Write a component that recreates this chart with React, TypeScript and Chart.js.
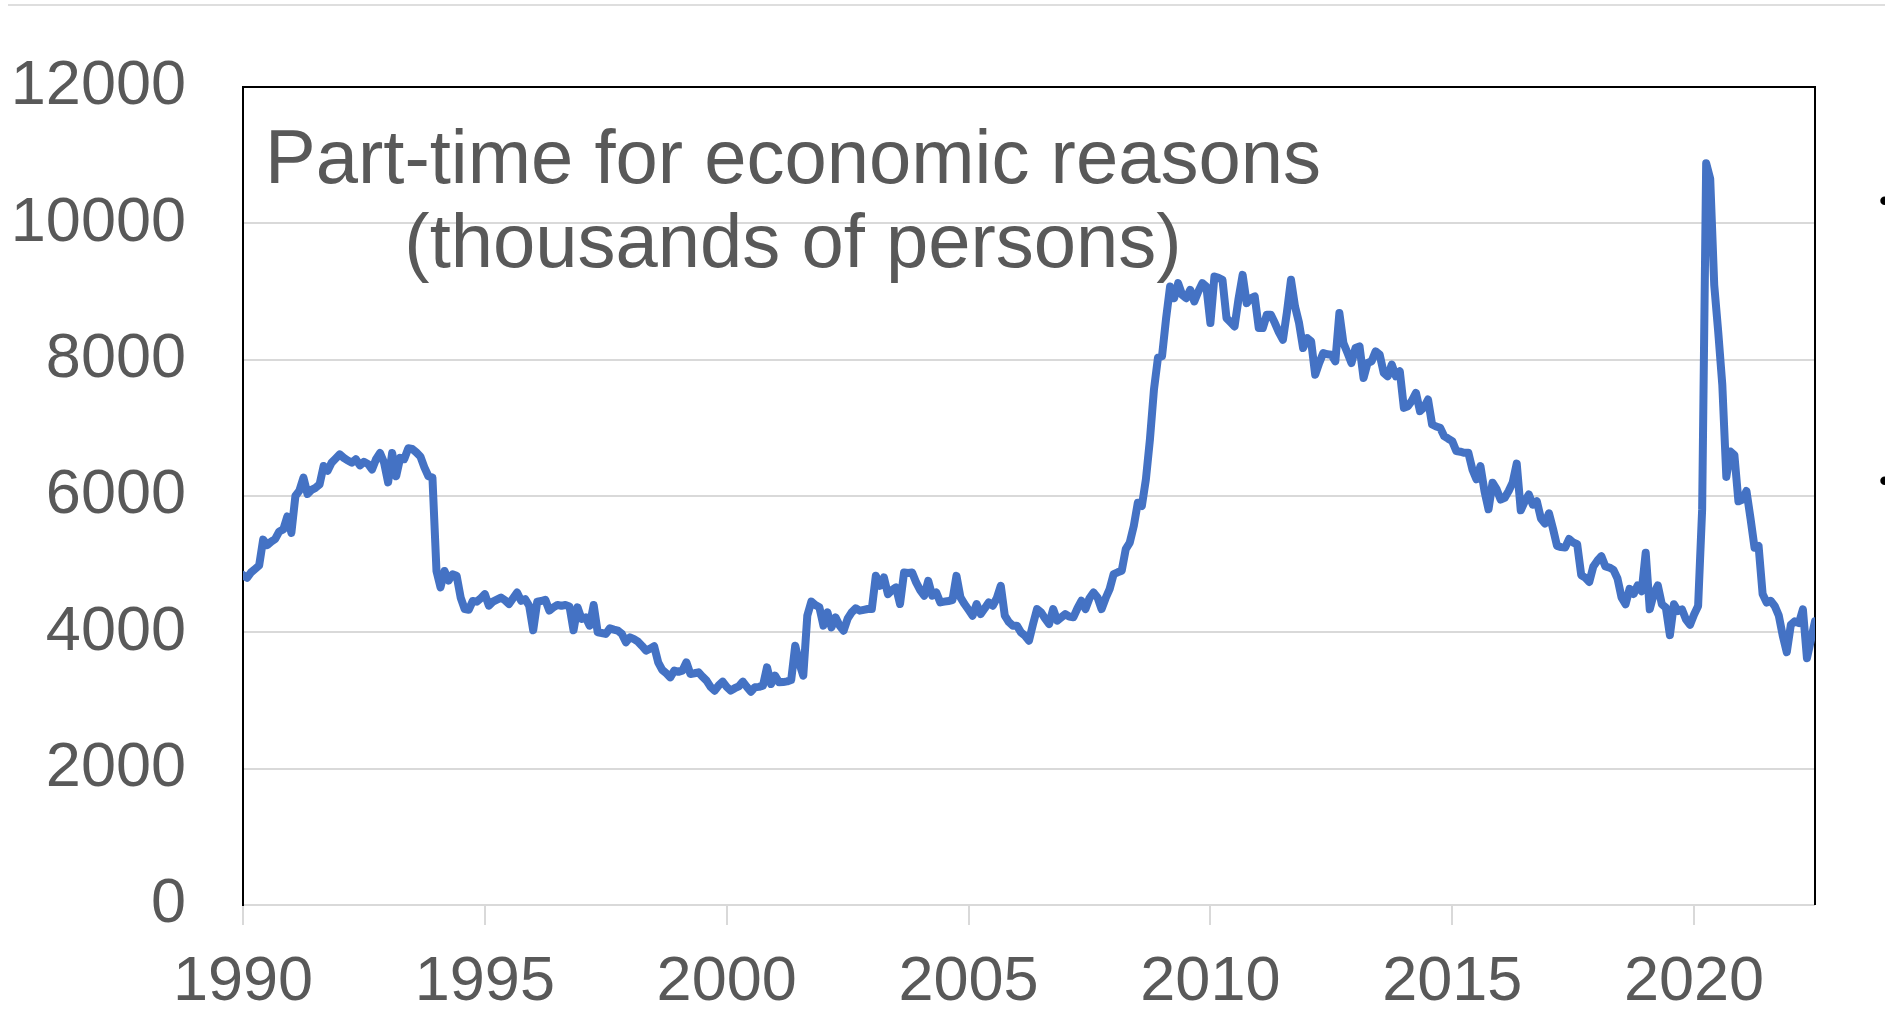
import { useEffect, useRef } from "react";
import { Chart, registerables } from "chart.js";

Chart.register(...registerables);

// Monthly series, thousands of persons, starting January 1990.
const START_YEAR = 1990;
const y1990 = [4840, 4800, 4880, 4930, 4980, 5360, 5280, 5330, 5370, 5480, 5510, 5700];
const y1991 = [5460, 6000, 6080, 6270, 6030, 6090, 6120, 6170, 6440, 6370, 6490, 6550];
const y1992 = [6610, 6560, 6520, 6490, 6540, 6450, 6500, 6470, 6390, 6540, 6630, 6490];
const y1993 = [6200, 6630, 6290, 6560, 6540, 6700, 6690, 6640, 6580, 6420, 6290, 6270];
const y1994 = [4900, 4660, 4900, 4760, 4850, 4830, 4510, 4340, 4330, 4460, 4450, 4500];
const y1995 = [4560, 4390, 4450, 4480, 4510, 4470, 4415, 4500, 4585, 4463, 4488, 4390];
const y1996 = [4030, 4450, 4460, 4478, 4320, 4366, 4400, 4390, 4400, 4380, 4030, 4367];
const y1997 = [4196, 4220, 4098, 4401, 4000, 3990, 3976, 4059, 4040, 4024, 3976, 3853];
const y1998 = [3927, 3900, 3863, 3800, 3731, 3760, 3795, 3560, 3450, 3400, 3340, 3438];
const y1999 = [3420, 3438, 3560, 3389, 3400, 3413, 3350, 3291, 3200, 3144, 3220, 3277];
const y2000 = [3200, 3144, 3180, 3208, 3277, 3200, 3130, 3193, 3200, 3218, 3487, 3242];
const y2001 = [3364, 3267, 3270, 3281, 3300, 3804, 3550, 3364, 4245, 4450, 4400, 4367];
const y2002 = [4098, 4293, 4073, 4220, 4100, 4024, 4200, 4293, 4352, 4318, 4330, 4342];
const y2003 = [4341, 4829, 4683, 4805, 4561, 4620, 4659, 4415, 4878, 4870, 4878, 4732];
const y2004 = [4620, 4537, 4756, 4537, 4585, 4439, 4450, 4460, 4473, 4829, 4512, 4415];
const y2005 = [4330, 4244, 4415, 4268, 4350, 4439, 4390, 4500, 4683, 4244, 4150, 4098];
const y2006 = [4098, 4000, 3951, 3878, 4120, 4341, 4293, 4200, 4122, 4341, 4171, 4220];
const y2007 = [4268, 4230, 4220, 4350, 4463, 4341, 4500, 4585, 4512, 4341, 4500, 4634];
const y2008 = [4854, 4880, 4903, 5220, 5317, 5561, 5902, 5854, 6244, 6829, 7561, 8030];
const y2009 = [8050, 8600, 9073, 8902, 9122, 8950, 8902, 9024, 8854, 9000, 9122, 9073];
const y2010 = [8537, 9220, 9200, 9171, 8610, 8550, 8488, 8900, 9244, 8829, 8900, 8927];
const y2011 = [8463, 8463, 8659, 8659, 8537, 8400, 8293, 8700, 9171, 8780, 8537, 8171];
const y2012 = [8317, 8268, 7780, 7951, 8098, 8080, 8073, 7976, 8683, 8244, 8100, 7951];
const y2013 = [8171, 8195, 7732, 7951, 7976, 8122, 8073, 7805, 7756, 7927, 7756, 7829];
const y2014 = [7293, 7317, 7400, 7512, 7244, 7300, 7415, 7049, 7020, 7000, 6878, 6840];
const y2015 = [6805, 6659, 6650, 6634, 6634, 6390, 6244, 6439, 6073, 5805, 6195, 6100];
const y2016 = [5948, 5973, 6073, 6200, 6476, 5790, 5922, 6023, 5872, 5922, 5671, 5595];
const y2017 = [5746, 5520, 5268, 5250, 5243, 5369, 5318, 5293, 4840, 4800, 4740, 4966];
const y2018 = [5050, 5117, 4966, 4950, 4916, 4790, 4513, 4412, 4639, 4563, 4689, 4604];
const y2019 = [5167, 4337, 4563, 4689, 4412, 4362, 3959, 4412, 4312, 4337, 4186, 4110];
const y2020 = [4261, 4387, 5800, 10881, 10654, 9094, 8400, 7634, 6280, 6652, 6602, 5922];
const y2021 = [5948, 6073, 5671, 5243, 5268, 4563, 4437, 4463, 4387, 4250, 3950, 3708];
const y2022 = [4110, 4161, 4136, 4337, 3620, 3890, 4160];

const monthly = [
  ...y1990, ...y1991, ...y1992, ...y1993, ...y1994, ...y1995, ...y1996,
  ...y1997, ...y1998, ...y1999, ...y2000, ...y2001, ...y2002, ...y2003,
  ...y2004, ...y2005, ...y2006, ...y2007, ...y2008, ...y2009, ...y2010,
  ...y2011, ...y2012, ...y2013, ...y2014, ...y2015, ...y2016, ...y2017,
  ...y2018, ...y2019, ...y2020, ...y2021, ...y2022,
];

const tickYears = [1990, 1995, 2000, 2005, 2010, 2015, 2020];
const yTickValues = [0, 2000, 4000, 6000, 8000, 10000, 12000];
const titleLines = ["Part-time for economic reasons", "(thousands of persons)"];

const FONT = "'Liberation Sans', Arial, Helvetica, sans-serif";
const TEXT_GREY = "#595959";
const GRID_GREY = "#d9d9d9";
const LINE_BLUE = "#4472C4";

// Black frame along the top and right edges of the plot area.
const framePlugin = {
  id: "plotFrame",
  beforeDatasetsDraw(chart: any) {
    const { ctx, chartArea } = chart;
    const { left, top, right, bottom } = chartArea;
    ctx.save();
    ctx.strokeStyle = "#000000";
    ctx.lineWidth = 2;
    ctx.beginPath();
    ctx.moveTo(left - 1, top);
    ctx.lineTo(right, top);
    ctx.lineTo(right, bottom);
    ctx.stroke();
    ctx.restore();
  },
};

export default function App() {
  const canvasRef = useRef<HTMLCanvasElement | null>(null);

  useEffect(() => {
    const canvas = canvasRef.current;
    if (!canvas) return;
    const chart = new Chart(canvas, {
      type: "line",
      data: {
        datasets: [
          {
            data: monthly.map((v, i) => ({ x: i, y: v })),
            borderColor: LINE_BLUE,
            backgroundColor: LINE_BLUE,
            borderWidth: 8,
            pointRadius: 0,
            tension: 0,
            fill: false,
            borderJoinStyle: "round",
            borderCapStyle: "round",
          },
        ],
      },
      options: {
        animation: false,
        responsive: false,
        devicePixelRatio: 1,
        events: [],
        layout: { padding: { left: 0, top: 87, right: 70, bottom: 0 } },
        elements: { line: { borderWidth: 8 } },
        plugins: {
          legend: { display: false },
          tooltip: { enabled: false },
          title: { display: false },
        },
        scales: {
          x: {
            type: "linear",
            min: 0,
            max: monthly.length - 1,
            afterBuildTicks: (scale: any) => {
              scale.ticks = tickYears.map((y) => ({ value: (y - START_YEAR) * 12 }));
            },
            afterFit: (scale: any) => {
              scale.height = 116;
              scale.paddingLeft = 0;
              scale.paddingRight = 0;
            },
            ticks: {
              callback: (v: any) => String(Math.round(START_YEAR + Number(v) / 12)),
              color: TEXT_GREY,
              font: { family: FONT, size: 63 },
              padding: 20,
              maxRotation: 0,
              autoSkip: false,
            },
            grid: {
              drawOnChartArea: false,
              drawTicks: true,
              tickLength: 20,
              tickColor: GRID_GREY,
              tickWidth: 2,
              color: GRID_GREY,
              lineWidth: 2,
            },
            border: { display: false },
          },
          y: {
            min: 0,
            max: 12000,
            afterBuildTicks: (scale: any) => {
              scale.ticks = yTickValues.map((v) => ({ value: v }));
            },
            afterFit: (scale: any) => {
              scale.width = 243;
              scale.paddingTop = 0;
              scale.paddingBottom = 0;
            },
            ticks: {
              color: TEXT_GREY,
              font: { family: FONT, size: 63 },
              padding: 57,
              callback: (v: any) => String(v),
            },
            grid: {
              color: GRID_GREY,
              lineWidth: 2,
              drawTicks: false,
            },
            border: { display: true, color: "#000000", width: 2 },
          },
        },
      },
      plugins: [framePlugin],
    } as any);
    return () => chart.destroy();
  }, []);

  return (
    <div
      style={{
        position: "absolute",
        left: 0,
        top: 0,
        width: 1885,
        height: 1021,
        overflow: "hidden",
        background: "#ffffff",
      }}
    >
      <div
        style={{
          position: "absolute",
          left: 8,
          right: 0,
          top: 4,
          height: 0,
          borderTop: "2px solid #dedede",
        }}
      />
      <canvas
        ref={canvasRef}
        width={1885}
        height={1021}
        style={{ position: "absolute", left: 0, top: 0 }}
      />
      <div
        style={{
          position: "absolute",
          left: 0,
          top: 115,
          width: 1586,
          textAlign: "center",
          fontFamily: FONT,
          fontSize: 76,
          lineHeight: "84px",
          color: TEXT_GREY,
          whiteSpace: "pre",
        }}
      >
        {titleLines.map((t) => (
          <div key={t}>{t}</div>
        ))}
      </div>
      {[184, 464].map((top) => (
        <span
          key={top}
          style={{
            position: "absolute",
            left: 1879,
            top,
            fontFamily: FONT,
            fontSize: 32,
            lineHeight: "32px",
            color: "#000000",
          }}
        >
          •
        </span>
      ))}
    </div>
  );
}
